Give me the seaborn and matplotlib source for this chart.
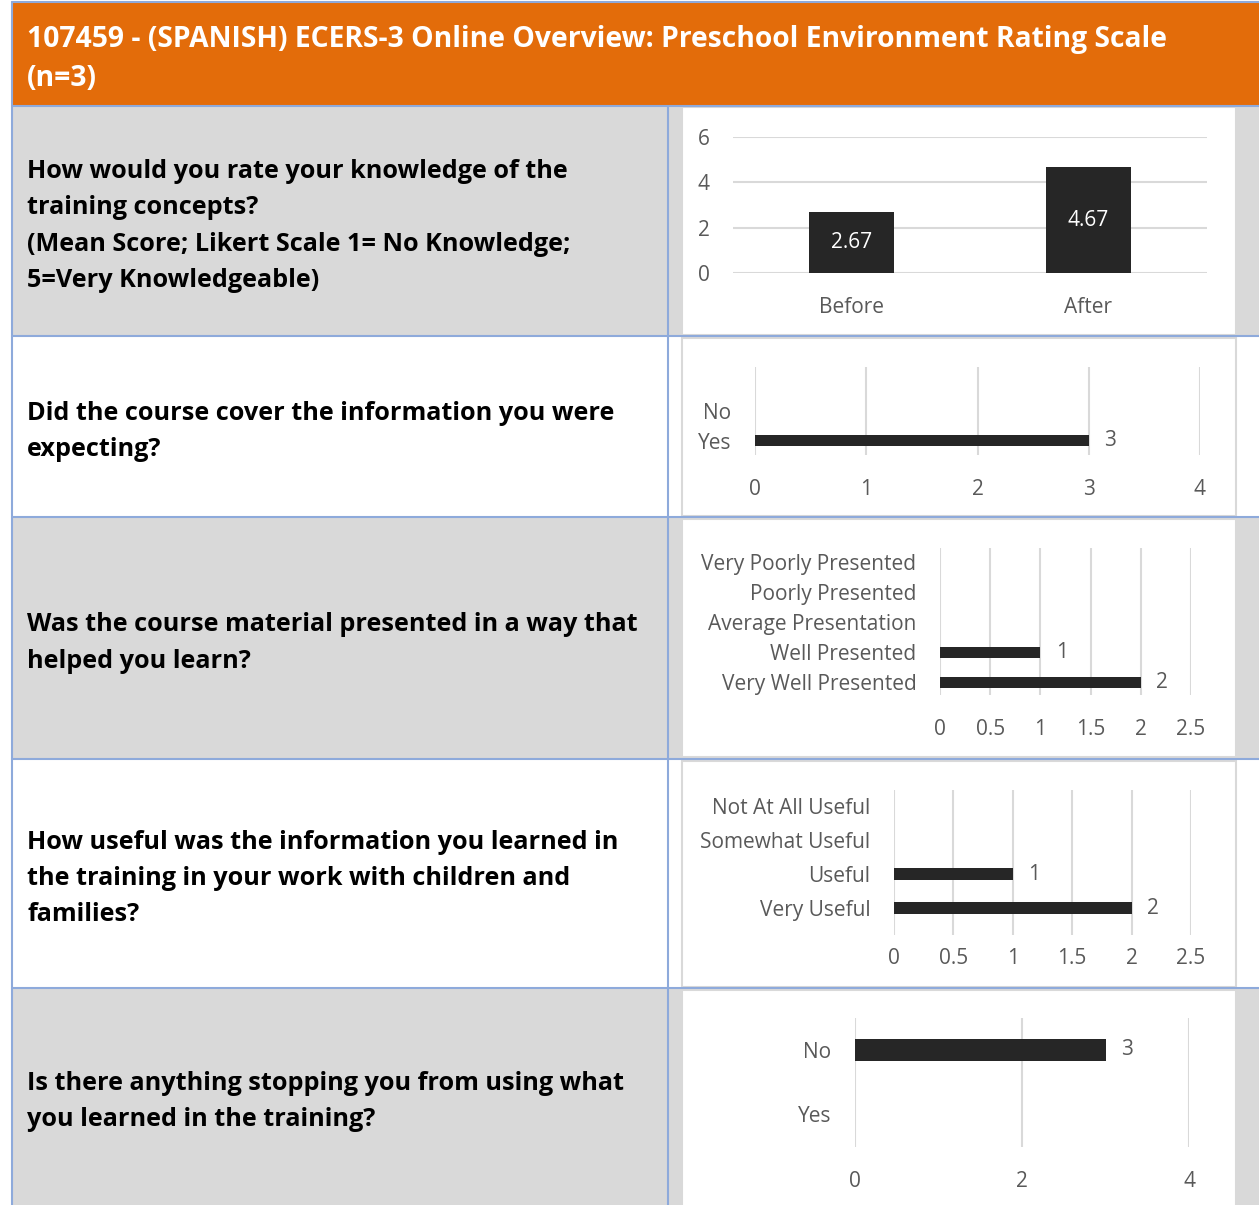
import matplotlib
matplotlib.use("Agg")
import matplotlib.pyplot as plt
from matplotlib.patches import Rectangle
from matplotlib.lines import Line2D
import seaborn as sns

# Data
header_lines = [
    "107459 - (SPANISH) ECERS-3 Online Overview: Preschool Environment Rating Scale",
    "(n=3)",
]
questions = [
    "How would you rate your knowledge of the\ntraining concepts?\n(Mean Score; Likert Scale 1= No Knowledge;\n5=Very Knowledgeable)",
    "Did the course cover the information you were\nexpecting?",
    "Was the course material presented in a way that\nhelped you learn?",
    "How useful was the information you learned in\nthe training in your work with children and\nfamilies?",
    "Is there anything stopping you from using what\nyou learned in the training?",
]
knowledge_labels = ["Before", "After"]
knowledge_values = [2.67, 4.67]

expect_labels = ["No", "Yes"]
expect_values = [0, 3]

present_labels = ["Very Poorly Presented", "Poorly Presented", "Average Presentation",
                  "Well Presented", "Very Well Presented"]
present_values = [0, 0, 0, 1, 2]

useful_labels = ["Not At All Useful", "Somewhat Useful", "Useful", "Very Useful"]
useful_values = [0, 0, 1, 2]

stopping_labels = ["No", "Yes"]
stopping_values = [3, 0]

# Style
sns.set_theme(style="white")
plt.rcParams["font.family"] = ["Open Sans", "DejaVu Sans"]

W, H = 1259, 1205
ORANGE = "#E36C0A"
GRAY = "#D9D9D9"
BLUE = "#8EAADB"
BAR = "#262626"
TXT = "#595959"
GRID = "#D9D9D9"
FS = 15

fig = plt.figure(figsize=(W / 100, H / 100), dpi=100)
fig.patch.set_facecolor("white")


def fx(x):
    return x / W


def fy(y):
    return 1 - y / H


def rect(x0, y0, x1, y1, fc, ec="none", lw=0, z=0):
    fig.add_artist(Rectangle((fx(x0), fy(y1)), (x1 - x0) / W, (y1 - y0) / H,
                             transform=fig.transFigure, facecolor=fc,
                             edgecolor=ec, lw=lw, zorder=z))


def line(x0, y0, x1, y1, color=BLUE, lw=1.5):
    fig.add_artist(Line2D([fx(x0), fx(x1)], [fy(y0), fy(y1)], transform=fig.transFigure,
                          color=color, lw=lw, zorder=2))


def make_ax(left, top, right, bottom):
    ax = fig.add_axes([fx(left), fy(bottom), (right - left) / W, (bottom - top) / H])
    ax.set_facecolor("none")
    ax.set_zorder(5)
    return ax


# Table layout
rows = [(106, 336), (336, 517), (517, 759), (759, 988), (988, 1205)]
row_fill = [GRAY, "white", GRAY, "white", GRAY]
boxes = [(682, 107, 1236, 335), (682, 338, 1236, 516), (682, 519, 1236, 757),
         (682, 761, 1236, 987), (682, 990, 1236, 1210)]

rect(12, 2, 1259, 106, ORANGE)
fig.text(fx(27), fy(40), header_lines[0], color="white", fontsize=20.3, fontweight="bold",
         va="center", ha="left")
fig.text(fx(27), fy(78), header_lines[1], color="white", fontsize=20.3, fontweight="bold",
         va="center", ha="left")

for (y0, y1), fc, box, q in zip(rows, row_fill, boxes, questions):
    rect(12, y0, 1259, y1, fc)
    rect(*box, "white", ec=GRAY, lw=1.5, z=1)
    fig.text(fx(27), fy((y0 + y1) / 2 + 5), q, color="black", fontsize=18.2,
             fontweight="bold", va="center", ha="left", linespacing=1.6)

line(12, 2, 1259, 2)
line(12, 2, 12, 1205)
line(668, 106, 668, 1205)
for y0, _ in rows:
    line(12, y0, 1259, y0)


def style_hbar(ax, xmax, xticks, ylim, values, xpad):
    ax.set_xlim(0, xmax)
    ax.set_xticks(xticks)
    ax.set_xticklabels([f"{t:g}" for t in xticks])
    ax.set_ylim(*ylim)
    ax.grid(axis="x", color=GRID, lw=1.5)
    ax.grid(axis="y", visible=False)
    ax.set_axisbelow(True)
    for s in ax.spines.values():
        s.set_visible(False)
    ax.tick_params(axis="x", length=0, pad=xpad, labelsize=FS, labelcolor=TXT)
    ax.tick_params(axis="y", length=0, pad=17, labelsize=FS, labelcolor=TXT)
    ax.set_xlabel("")
    ax.set_ylabel("")
    ax.bar_label(ax.containers[0], labels=[f"{v:g}" if v else "" for v in values],
                 padding=11, color=TXT, fontsize=FS)


# Row 1: knowledge before/after
ax1 = make_ax(733, 137, 1207, 273)
sns.barplot(x=knowledge_labels, y=knowledge_values, color=BAR, saturation=1,
            width=0.36, linewidth=0, ax=ax1)
ax1.set_ylim(0, 6)
ax1.set_yticks([0, 2, 4, 6])
ax1.set_xlim(-0.5, 1.5)
ax1.grid(axis="y", color=GRID, lw=1.5)
ax1.grid(axis="x", visible=False)
ax1.set_axisbelow(True)
for s in ax1.spines.values():
    s.set_visible(False)
ax1.tick_params(axis="x", length=0, pad=17, labelsize=FS, labelcolor=TXT)
ax1.tick_params(axis="y", length=0, pad=17, labelsize=FS, labelcolor=TXT)
ax1.set_xlabel("")
ax1.set_ylabel("")
ax1.bar_label(ax1.containers[0], labels=[f"{v:.2f}" for v in knowledge_values],
              label_type="center", color="white", fontsize=FS)

# Row 2: course covered expectations
ax2 = make_ax(755, 367, 1200, 455)
sns.barplot(x=expect_values, y=expect_labels, orient="h", color=BAR, saturation=1,
            width=0.37, linewidth=0, ax=ax2)
style_hbar(ax2, 4, [0, 1, 2, 3, 4], (1.47, -1.47), expect_values, 17)

# Row 3: presentation
ax3 = make_ax(940, 548, 1191, 695)
sns.barplot(x=present_values, y=present_labels, orient="h", color=BAR, saturation=1,
            width=0.37, linewidth=0, ax=ax3)
style_hbar(ax3, 2.5, [0, 0.5, 1, 1.5, 2, 2.5], (4.43, -0.47), present_values, 17)

# Row 4: usefulness
ax4 = make_ax(894, 790, 1191, 935)
sns.barplot(x=useful_values, y=useful_labels, orient="h", color=BAR, saturation=1,
            width=0.33, linewidth=0, ax=ax4)
style_hbar(ax4, 2.5, [0, 0.5, 1, 1.5, 2, 2.5], (3.79, -0.47), useful_values, 9)

# Row 5: barriers
ax5 = make_ax(855, 1018, 1189, 1147)
sns.barplot(x=stopping_values, y=stopping_labels, orient="h", color=BAR, saturation=1,
            width=0.34, linewidth=0, ax=ax5)
style_hbar(ax5, 4, [0, 2, 4], (1.52, -0.5), stopping_values, 17)

plt.savefig("out.png", dpi=100)
